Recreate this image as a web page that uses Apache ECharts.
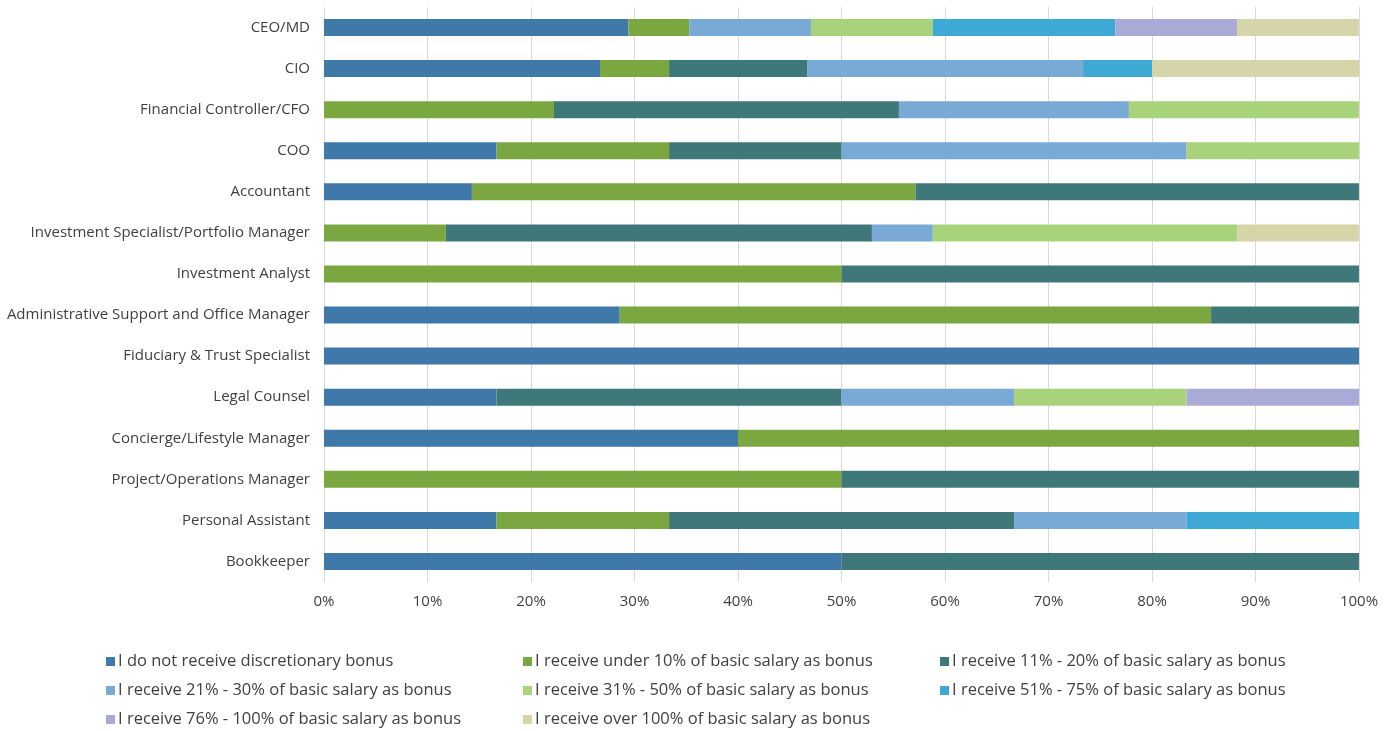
<!DOCTYPE html>
<html><head><meta charset="utf-8">
<script src="https://cdn.jsdelivr.net/npm/echarts@6/dist/echarts.min.js"></script>
<style>html,body{margin:0;padding:0;background:#fff}#c{width:1394px;height:731px}</style>
</head><body><div id="c"></div>
<script>
const categories = ["CEO/MD","CIO","Financial Controller/CFO","COO","Accountant","Investment Specialist/Portfolio Manager","Investment Analyst","Administrative Support and Office Manager","Fiduciary & Trust Specialist","Legal Counsel","Concierge/Lifestyle Manager","Project/Operations Manager","Personal Assistant","Bookkeeper"];
const seriesNames = ["I do not receive discretionary bonus","I receive under 10% of basic salary as bonus","I receive 11% - 20% of basic salary as bonus","I receive 21% - 30% of basic salary as bonus","I receive 31% - 50% of basic salary as bonus","I receive 51% - 75% of basic salary as bonus","I receive 76% - 100% of basic salary as bonus","I receive over 100% of basic salary as bonus"];
const colors = ["#3f79aa","#7aa73f","#3f7879","#79aad5","#a9d37a","#3fa9d6","#aaaad6","#d6d5a9"];
// percentages per category (same order as categories)
const noBonus   = [29.41,26.67,0,16.67,14.29,0,0,28.57,100,16.67,40,0,16.67,50];
const under10   = [5.88,6.67,22.22,16.67,42.86,11.76,50,57.14,0,0,60,50,16.67,0];
const p11to20   = [0,13.33,33.33,16.67,42.86,41.18,50,14.29,0,33.33,0,50,33.33,50];
const p21to30   = [11.76,26.67,22.22,33.33,0,5.88,0,0,0,16.67,0,0,16.67,0];
const p31to50   = [11.76,0,22.22,16.67,0,29.41,0,0,0,16.67,0,0,0,0];
const p51to75   = [17.65,6.67,0,0,0,0,0,0,0,0,0,0,16.67,0];
const p76to100  = [11.76,0,0,0,0,0,0,0,0,16.67,0,0,0,0];
const over100   = [11.76,20,0,0,0,11.76,0,0,0,0,0,0,0,0];
const values = [noBonus,under10,p11to20,p21to30,p31to50,p51to75,p76to100,over100];
const xTicks = [0,10,20,30,40,50,60,70,80,90,100];

const font = "'Open Sans', sans-serif";
const chart = echarts.init(document.getElementById('c'));
const legendCommon = {orient:'vertical', itemWidth:9, itemHeight:9, itemGap:12, icon:'rect', padding:0, height:120,
  textStyle:{fontSize:16.5, color:'#404040', fontFamily:font, padding:[0,0,0,-2]}, selectedMode:false};
chart.setOption({
  animation:false,
  grid:{left:324, right:35, top:7, bottom:149, containLabel:false},
  xAxis:{type:'value', min:0, max:100, interval:10,
    axisLabel:{formatter:v=>xTicks.includes(v)?v+'%':'', fontSize:15, color:'#404040', fontFamily:font, margin:12},
    splitLine:{lineStyle:{color:'#d9d9d9'}}, axisLine:{show:false}, axisTick:{show:false}},
  yAxis:{type:'category', inverse:true, data:categories,
    axisLabel:{fontSize:15, color:'#404040', fontFamily:font, margin:14},
    axisLine:{show:false}, axisTick:{show:false}},
  legend:[
    Object.assign({left:106, top:653, data:[seriesNames[0],seriesNames[3],seriesNames[6]]}, legendCommon),
    Object.assign({left:523, top:653, data:[seriesNames[1],seriesNames[4],seriesNames[7]]}, legendCommon),
    Object.assign({left:940, top:653, data:[seriesNames[2],seriesNames[5]]}, legendCommon)
  ],
  series: seriesNames.map((n,i)=>({name:n, type:'bar', stack:'s', barWidth:17,
    itemStyle:{color:colors[i]}, data:values[i]}))
});
</script></body></html>
